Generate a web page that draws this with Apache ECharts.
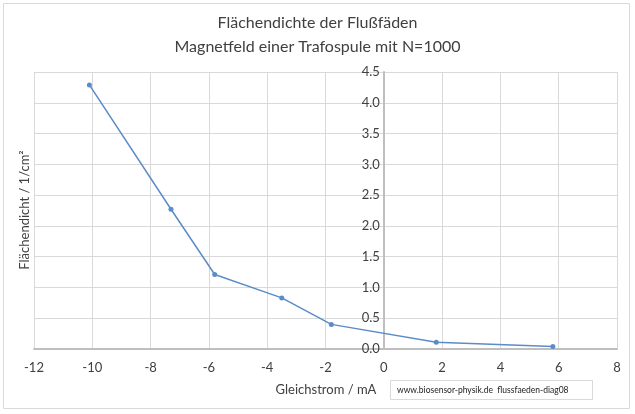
<!DOCTYPE html>
<html><head><meta charset="utf-8">
<script src="https://cdn.jsdelivr.net/npm/echarts@6/dist/echarts.min.js"></script>
<style>html,body{margin:0;padding:0;background:#fff}#c{width:635px;height:414px}</style>
</head><body><div id="c"></div>
<script>
const current = [-10.1, -7.3, -5.8, -3.5, -1.8, 1.8, 5.8];
const density = [4.29, 2.27, 1.21, 0.83, 0.40, 0.11, 0.04];
const titleLines = ['Flächendichte der Flußfäden', 'Magnetfeld einer Trafospule mit N=1000'];
const xName = 'Gleichstrom / mA';
const yName = 'Flächendicht / 1/cm²';
const sourceText = 'www.biosensor-physik.de  flussfaeden-diag08';

const FONT = 'Lato, "Open Sans", sans-serif';
const TXT = '#404040';
const GL = 34, GR = 18, W = 635;
const xMin = -12, xMax = 8;
// place the y axis where x = 0 lies inside the grid
const yAxisOffset = -((0 - xMin) / (xMax - xMin)) * (W - GL - GR);

const chart = echarts.init(document.getElementById('c'), null, {renderer: 'canvas'});
chart.setOption({
  animation: false,
  backgroundColor: '#fff',
  title: {
    text: titleLines.join('\n'), left: 'center', top: 6,
    textStyle: {fontFamily: FONT, fontSize: 16, fontWeight: 'normal', color: TXT, lineHeight: 24}
  },
  grid: {left: GL, right: GR, top: 72, bottom: 65},
  xAxis: {
    type: 'value', min: xMin, max: xMax, interval: 2,
    axisLine: {onZero: false, lineStyle: {color: '#bfbfbf', width: 2}},
    axisTick: {show: false},
    axisLabel: {color: TXT, fontFamily: FONT, fontSize: 13, margin: 12},
    splitLine: {lineStyle: {color: '#d9d9d9', width: 1}}
  },
  yAxis: {
    type: 'value', min: 0, max: 4.5, interval: 0.5,
    position: 'left', offset: yAxisOffset,
    axisLine: {show: true, onZero: false, lineStyle: {color: '#bfbfbf', width: 2}},
    axisTick: {show: false},
    axisLabel: {color: TXT, fontFamily: FONT, fontSize: 13, margin: 4, formatter: v => v.toFixed(1)},
    splitLine: {lineStyle: {color: '#d9d9d9', width: 1}}
  },
  series: [{
    type: 'line', data: current.map((x, i) => [x, density[i]]),
    symbol: 'circle', symbolSize: 5,
    lineStyle: {color: '#5b8cc8', width: 1.5},
    itemStyle: {color: '#5b8cc8'}
  }],
  graphic: [
    {type: 'rect', shape: {x: 3.5, y: 3.5, width: 626, height: 405}, style: {fill: null, stroke: '#d9d9d9', lineWidth: 1}, z: -1},
    {type: 'text', x: 326, y: 390, style: {text: xName, fill: TXT, font: '13px ' + FONT, align: 'center', verticalAlign: 'middle'}},
    {type: 'text', x: 25, y: 210, rotation: Math.PI / 2, style: {text: yName, fill: TXT, font: '13px ' + FONT, align: 'center', verticalAlign: 'middle'}},
    {type: 'rect', shape: {x: 390.5, y: 380.5, width: 202, height: 19}, style: {fill: '#fff', stroke: '#d9d9d9', lineWidth: 1}},
    {type: 'text', x: 397, y: 390, style: {text: sourceText, fill: '#222', font: '8.5px ' + FONT, align: 'left', verticalAlign: 'middle'}}
  ]
});
</script></body></html>
